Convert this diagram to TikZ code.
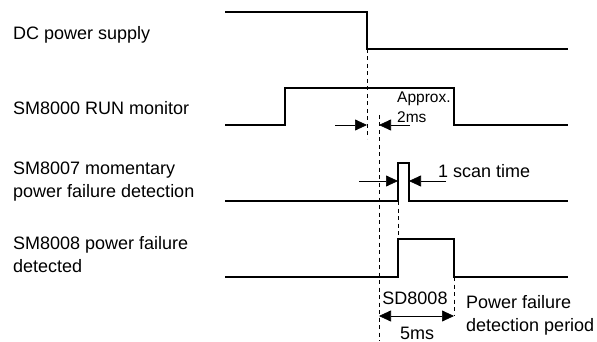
\documentclass[tikz,border=0pt]{standalone}
\usepackage{fontspec}
\setmainfont{Liberation Sans}
\usetikzlibrary{arrows.meta}

\tikzset{
  signal/.style={line width=1.6pt},
  guide/.style={line width=0.8pt, dash pattern=on 4pt off 3.5pt},
  tip/.style={-{Triangle[length=12pt,width=11pt]}},
  dim/.style={line width=0.7pt, tip},
  lbl/.style={anchor=west, inner sep=0pt, align=left, font=\fontsize{18}{23}\selectfont},
  note/.style={inner sep=0pt, align=left, font=\fontsize{18}{23}\selectfont},
  small/.style={anchor=west, inner sep=0pt, align=left, font=\fontsize{15.5}{20}\selectfont},
}

\begin{document}
\begin{tikzpicture}[x=1pt,y=-1pt]
  \useasboundingbox (0,0) rectangle (597,342);

  % signal names
  \node[lbl] (dcname) at (13,35) {DC power supply};
  \node[lbl] (runname) at (13,108) {SM8000 RUN monitor};
  \node[lbl] (momname) at (13,181.5) {SM8007 momentary\\power failure detection};
  \node[lbl] (detname) at (13,254.5) {SM8008 power failure\\detected};

  % time marks
  \coordinate (pf) at (367,49);
  \coordinate (pfend) at (367,139);
  \coordinate (stop) at (379,115);
  \coordinate (stopend) at (379,341);
  \coordinate (scan) at (398,201);
  \coordinate (scanend) at (398,239);
  \coordinate (hold) at (454,277);
  \coordinate (holdend) at (454,316);

  % waveforms
  \draw[signal] (225,12) -- (367,12) -- (pf) -- (568,49);
  \draw[signal] (225,125) -- (285,125) -- (285,88) -- (454,88) -- (454,125) -- (568,125);
  \draw[signal] (225,201) -- (scan) -- (398,163) -- (409,163) -- (409,201) -- (568,201);
  \draw[signal] (225,277) -- (398,277) -- (scanend) -- (454,239) -- (hold) -- (568,277);

  % guide lines
  \draw[guide] (pf) -- (pfend);
  \draw[guide] (stop) -- (stopend);
  \draw[guide] (scan) -- (scanend);
  \draw[guide] (hold) -- (holdend);

  % approx. 2ms
  \coordinate (a1) at (335,125);
  \coordinate (a2) at (410,125);
  \draw[dim] (a1) -- (a1 -| pf);
  \draw[dim] (a2) -- (a2 -| stop);
  \node[small] (approx) at (397,107) {Approx.\\2ms};

  % 1 scan time
  \coordinate (b1) at (359,181);
  \coordinate (b2) at (446,181);
  \draw[dim] (b1) -- (b1 -| scan);
  \draw[dim] (b2) -- (409,181);
  \node[lbl] (scantxt) at (438,171) {1 scan time};

  % detection period
  \draw[line width=0.7pt, {Triangle[length=12pt,width=11pt]}-{Triangle[length=12pt,width=11pt]}] (stop |- holdend) -- (holdend);
  \node[note] (sd) at (415,298) {SD8008};
  \node[note] (fivems) at (417,333) {5ms};
  \node[lbl] (period) at (466,315) {Power failure\\detection period};
\end{tikzpicture}
\end{document}
